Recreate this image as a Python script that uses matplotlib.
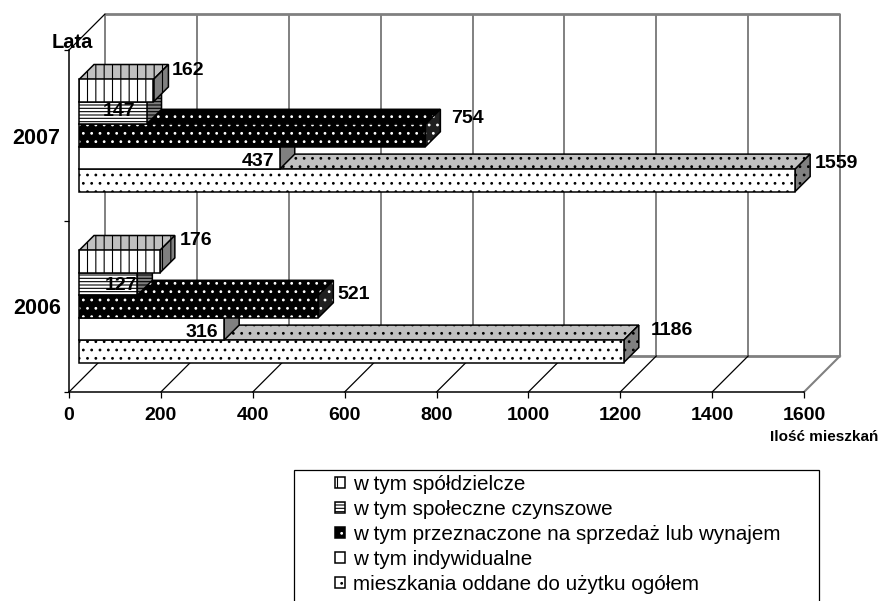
import matplotlib
matplotlib.use("Agg")
import matplotlib.pyplot as plt
from matplotlib.patches import Patch, Polygon, Rectangle
from matplotlib.transforms import ScaledTranslation

plt.rcParams['font.family'] = ['Liberation Sans', 'DejaVu Sans']
plt.rcParams['hatch.linewidth'] = 0.8

years = ['2006', '2007']
series_names = ['mieszkania oddane do użytku ogółem', 'w tym indywidualne',
                'w tym przeznaczone na sprzedaż lub wynajem',
                'w tym społeczne czynszowe', 'w tym spółdzielcze']
total = [1186, 1559]
individual = [316, 437]
for_sale = [521, 754]
social = [127, 147]
cooperative = [176, 162]
series_values = [total, individual, for_sale, social, cooperative]
x_ticks = [0, 200, 400, 600, 800, 1000, 1200, 1400, 1600]

# style: front, top, side colours, hatch, hatch colours
styles = [
    dict(front='white', top='#c0c0c0', side='#808080', hatch='..', hc='black'),
    dict(front='white', top='white', side='#808080', hatch=None, hc='black'),
    dict(front='black', top='black', side='#202020', hatch='..', hc='white'),
    dict(front='white', top='#c0c0c0', side='#808080', hatch='-----', hc='black'),
    dict(front='white', top='#c0c0c0', side='#808080', hatch='||', hc='black'),
]
# label offsets in px from the end of the front face / bar centre
label_off = [[(48, 21), (41, 17)], [(-22, -4), (-22, -4)], [(35, 12), (42, 17)],
             [(-16, -1), (-27, 2)], [(36, 21), (35, 20)]]

W, H = 882, 601
fig = plt.figure(figsize=(W / 100, H / 100), dpi=100, facecolor='white')
L, R, T, B = 69, 804, 50, 392
ax = fig.add_axes([L / W, 1 - B / H, (R - L) / W, (B - T) / H])
ax.set_xlim(0, 1600)
ax.set_ylim(0, 2)
ax.patch.set_alpha(0)

px_x = 1600 / (R - L)
px_y = 2 / (B - T)
def off(dx, dy=0):
    return ax.transData + ScaledTranslation(dx / 100, dy / 100, fig.dpi_scale_trans)

# walls and floor
WALL = 36
back = off(WALL, WALL)
ax.vlines(x_ticks, 0, 2, transform=back, color='#808080', lw=1.4, zorder=1, clip_on=False)
ax.hlines([0, 2], 0, 1600, transform=back, color='#808080', lw=2, zorder=1, clip_on=False)
for x in x_ticks:
    c = '#808080' if x == 1600 else 'black'
    ax.plot([x, x + WALL * px_x], [0, WALL * px_y], color=c, lw=1.5 if x == 1600 else 0.9,
            zorder=1, clip_on=False)
ax.plot([0, WALL * px_x], [2, 2 + WALL * px_y], color='black', lw=0.9, zorder=1, clip_on=False)

# bars
BAR_H = 22.4 * px_y
DX, DY = 15 * px_x, 15 * px_y
front = off(10, 0)
z = 2
for k, (vals, st) in enumerate(zip(series_values, styles)):
    for g, v in enumerate(vals):
        y0 = g + 0.5 + (k - 2.5) * BAR_H
        y1 = y0 + BAR_H
        top = [(0, y1), (v, y1), (v + DX, y1 + DY), (DX, y1 + DY)]
        side = [(v, y0), (v + DX, y0 + DY), (v + DX, y1 + DY), (v, y1)]
        for verts, col in ((top, st['top']), (side, st['side'])):
            ax.add_patch(Polygon(verts, closed=True, facecolor=col, edgecolor=st['hc'],
                                 hatch=st['hatch'], lw=0, transform=front, zorder=z, clip_on=False))
            ax.add_patch(Polygon(verts, closed=True, fill=False, edgecolor='black',
                                 lw=1.1, transform=front, zorder=z, clip_on=False))
        ax.barh(y0, v, height=BAR_H, align='edge', color=st['front'], edgecolor=st['hc'],
                hatch=st['hatch'], lw=0, transform=front, zorder=z, clip_on=False)
        ax.barh(y0, v, height=BAR_H, align='edge', fill=False, edgecolor='black',
                lw=1.1, transform=front, zorder=z, clip_on=False)
        z += 1

# value labels
for k, vals in enumerate(series_values):
    for g, v in enumerate(vals):
        y = g + 0.5 + (k - 2) * BAR_H
        ox, oy = label_off[k][g]
        ax.annotate(str(v), xy=(v, y), xycoords=front, xytext=(ox * 0.72, oy * 0.72),
                    textcoords='offset points', ha='center', va='center',
                    fontsize=14, fontweight='bold', color='black', zorder=50)

# axes
for s in ('top', 'right'):
    ax.spines[s].set_visible(False)
for s in ('left', 'bottom'):
    ax.spines[s].set_linewidth(1.1)
    ax.spines[s].set_zorder(40)
ax.set_xticks(x_ticks)
ax.set_yticks([0.5, 1.5], years)
ax.set_yticks([0, 1, 2], minor=True)
ax.tick_params(axis='x', length=4.5, width=0.9, pad=6, labelsize=14)
ax.tick_params(axis='y', which='major', length=0, pad=6, labelsize=15.5)
ax.tick_params(axis='y', which='minor', length=3.5, width=0.9)
for lab in ax.get_xticklabels() + ax.get_yticklabels():
    lab.set_fontweight('bold')

fig.text(72 / W, 1 - 42 / H, 'Lata', ha='center', va='center', fontsize=14.5, fontweight='bold')
fig.text(824 / W, 1 - 437 / H, 'Ilość mieszkań', ha='center', va='center', fontsize=11, fontweight='bold')

# legend
fig.add_artist(Rectangle((294 / W, -0.01), (819 - 294) / W, (601 - 470) / H + 0.01,
                         transform=fig.transFigure, facecolor='white', edgecolor='black', lw=0.9))
handles = [Patch(facecolor=st['front'], edgecolor=st['hc'], hatch=st['hatch'], lw=0) for st in styles]
outline = [Patch(fill=False, edgecolor='black', lw=1.1) for st in styles]
order = list(range(4, -1, -1))
leg = fig.legend([(handles[i], outline[i]) for i in order], [series_names[i] for i in order],
                 loc='upper left', bbox_to_anchor=(335 / W, 1 - 475 / H), frameon=False,
                 fontsize=14.85, labelspacing=0.29, handlelength=0.48, handleheight=0.48,
                 handletextpad=0.4, borderpad=0, borderaxespad=0)

fig.savefig('out.png', dpi=100, facecolor='white')
